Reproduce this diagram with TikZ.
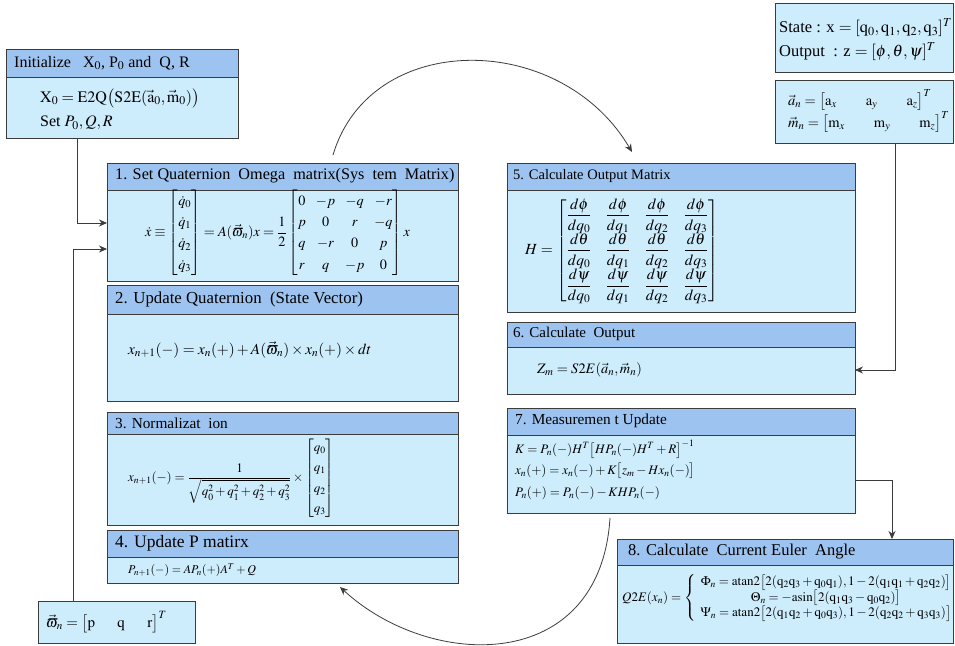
\documentclass[tikz,border=0pt]{standalone}
\usepackage{amsmath}
\usepackage{mathptmx}
\usepackage[no-math]{fontspec}
\setmainfont{Liberation Serif}
\usetikzlibrary{arrows.meta}
\definecolor{hdr}{RGB}{157,196,240}
\definecolor{bdy}{RGB}{205,236,252}
\definecolor{edge}{RGB}{60,60,60}
\newcommand\qv[1]{\mathrm{q}_{#1}}
\newcommand\fs[1]{\fontsize{#1}{#1}\selectfont}
\newcommand\kbox[6]{%
  \node[hbox,minimum width=#4pt,minimum height=#5pt] (#1h) at (#2,#3) {};
  \node[bbox,minimum width=#4pt,minimum height={#6pt-#5pt}] (#1) at (#2,#3+#5) {};}
\begin{document}
\begin{tikzpicture}[x=1pt,y=-1pt,
  hbox/.style={draw=edge,line width=1pt,fill=hdr,anchor=north west,inner sep=0pt,outer sep=0pt},
  bbox/.style={draw=edge,line width=1pt,fill=bdy,anchor=north west,inner sep=0pt,outer sep=0pt},
  ttl/.style={anchor=west,inner sep=0pt},
  eq/.style={anchor=west,inner sep=0pt},
  arr/.style={draw=edge,line width=0.8pt,-{Stealth[length=8pt,width=7pt]}},
]
\useasboundingbox[fill=white] (0,0) rectangle (955,645);

% boxes
\kbox{ini}{6}{49}{232}{28}{89}
\kbox{bA}{107}{163}{351}{27}{118}
\kbox{bB}{107}{285}{351}{29}{116}
\kbox{bC}{107}{412}{351}{22}{113}
\kbox{bD}{107}{530}{351}{27}{53}
\kbox{bE}{507}{163}{348}{27}{149}
\kbox{bF}{507}{322}{348}{25}{72}
\kbox{bG}{507}{408}{348}{27}{105}
\kbox{bH}{617}{539}{336}{26}{104}
\node[bbox,minimum width=157pt,minimum height=42pt] (om) at (38,601) {};
\node[bbox,minimum width=178pt,minimum height=69pt] (st) at (775,3) {};
\node[bbox,minimum width=178pt,minimum height=63pt] (am) at (775,80) {};

% titles
\node[ttl,font=\fs{16}] (t0) at (14,63) {Initialize\ \ \ X$_0$, P$_0$ and\ \ Q, R};
\node[ttl,font=\fs{16.2}] (t1) at (115,176) {1. Set Quaternion\ \ Omega\ \ matrix(Sys\ \ tem\ \ Matrix)};
\node[ttl,font=\fs{16.8}] (t2) at (115,299) {2. Update Quaternion\ \ (State Vector)};
\node[ttl,font=\fs{15.3}] (t3) at (115,423) {3. Normalizat\ \ ion};
\node[ttl,font=\fs{17.5}] (t4) at (115,543) {4. Update P matirx};
\node[ttl,font=\fs{14.5}] (t5) at (513,176) {5. Calculate\ Output\ Matrix};
\node[ttl,font=\fs{15}] (t6) at (513,334) {6. Calculate\ \ Output};
\node[ttl,font=\fs{15.3}] (t7) at (515,421) {7. Measuremen t Update};
\node[ttl,font=\fs{16.5}] (t8) at (628,552) {8. Calculate\ \ Current Euler\ \ Angle};

% equations
\node[eq,font=\fs{16}] (e0a) at (40,98) {$\mathrm{X}_0=\mathrm{E2Q}\bigl(\mathrm{S2E}(\vec{\mathrm{a}}_0,\vec{\mathrm{m}}_0)\bigr)$};
\node[eq,font=\fs{16}] (e0b) at (40,123) {Set $P_0,Q,R$};
\node[eq,font=\fs{14.2}] (e1) at (145,233) {\renewcommand\arraystretch{1.5}$\dot{x}\equiv\begin{bmatrix}\dot q_0\\ \dot q_1\\ \dot q_2\\ \dot q_3\end{bmatrix}=A(\vec{\varpi}_n)x=\dfrac{1}{2}\begin{bmatrix}0&-p&-q&-r\\ p&0&r&-q\\ q&-r&0&p\\ r&q&-p&0\end{bmatrix}x$};
\node[eq,font=\fs{15.3}] (e2) at (128,350) {$x_{n+1}(-)=x_n(+)+A(\vec{\varpi}_n)\times x_n(+)\times dt$};
\node[eq,font=\fs{13}] (e3) at (128,478) {\renewcommand\arraystretch{1.55}$x_{n+1}(-)=\dfrac{1}{\sqrt{q_0^2+q_1^2+q_2^2+q_3^2}}\times\begin{bmatrix}q_0\\ q_1\\ q_2\\ q_3\end{bmatrix}$};
\node[eq,font=\fs{12}] (e4) at (128,570) {$P_{n+1}(-)=AP_n(+)A^T+Q$};
\node[eq,font=\fs{15}] (eo) at (46,622) {$\vec{\varpi}_n=\bigl[\mathrm{p}\quad\ \ \mathrm{q}\quad\ \ \mathrm{r}\bigr]^T$};
\node[eq,font=\fs{16.5}] (es1) at (779,28) {State : x $=[\qv0,\qv1,\qv2,\qv3]^T$};
\node[eq,font=\fs{16.5}] (es2) at (779,52) {Output\ \ : z $=[\phi,\theta,\psi]^T$};
\node[eq,font=\fs{14.5}] (ea1) at (788,100) {$\vec{a}_n=\bigl[\mathrm{a}_x\qquad\mathrm{a}_y\qquad\mathrm{a}_z\bigr]^T$};
\node[eq,font=\fs{14.5}] (ea2) at (788,122) {$\vec{m}_n=\bigl[\mathrm{m}_x\qquad\mathrm{m}_y\qquad\mathrm{m}_z\bigr]^T$};
\node[eq,font=\fs{15.5}] (e5) at (525,251) {\setlength\arraycolsep{7pt}$H=\left[\begin{matrix}
\dfrac{d\phi}{dq_0}&\dfrac{d\phi}{dq_1}&\dfrac{d\phi}{dq_2}&\dfrac{d\phi}{dq_3}\\[1pt]
\dfrac{d\theta}{dq_0}&\dfrac{d\theta}{dq_1}&\dfrac{d\theta}{dq_2}&\dfrac{d\theta}{dq_3}\\[1pt]
\dfrac{d\psi}{dq_0}&\dfrac{d\psi}{dq_1}&\dfrac{d\psi}{dq_2}&\dfrac{d\psi}{dq_3}\end{matrix}\right]$};
\node[eq,font=\fs{14.4}] (e6) at (537,370) {$Z_m=S2E(\vec{a}_n,\vec{m}_n)$};
\node[eq,font=\fs{13}] (e7a) at (515,449) {$K=P_n(-)H^T\bigl[HP_n(-)H^T+R\bigr]^{-1}$};
\node[eq,font=\fs{13}] (e7b) at (515,471) {$x_n(+)=x_n(-)+K\bigl[z_m-Hx_n(-)\bigr]$};
\node[eq,font=\fs{13}] (e7c) at (515,493) {$P_n(+)=P_n(-)-KHP_n(-)$};
\node[eq,font=\fs{13}] (e8) at (622,598) {\renewcommand\arraystretch{1.05}$Q2E(x_n)=\left\{\begin{array}{c}
\Phi_n=\mathrm{atan2}\bigl[2(\qv2\qv3+\qv0\qv1),1-2(\qv1\qv1+\qv2\qv2)\bigr]\\
\Theta_n=-\mathrm{asin}\bigl[2(\qv1\qv3-\qv0\qv2)\bigr]\\
\Psi_n=\mathrm{atan2}\bigl[2(\qv1\qv2+\qv0\qv3),1-2(\qv2\qv2+\qv3\qv3)\bigr]\end{array}\right.$};

% connectors
\draw[arr] ([xshift=71pt]ini.south west) |- ([yshift=-33pt]bA.north west);
\draw[arr] ([xshift=35pt]om.north west) |- ([yshift=-59pt]bA.north west);
\draw[arr] ([xshift=120pt]am.south west) |- ([yshift=-23pt]bF.north east);
\draw[arr] ([yshift=-45pt]bG.north east) -| ([xshift=275pt]bHh.north west);
\coordinate (a1) at (333,155);
\coordinate (a2) at (632,152);
\draw[arr] (a1) .. controls (370,30) and (560,30) .. (a2);
\coordinate (b1) at (610,518);
\coordinate (b2) at (340,587);
\draw[arr] (b1) .. controls (600,675) and (430,670) .. (b2);
\end{tikzpicture}
\end{document}
